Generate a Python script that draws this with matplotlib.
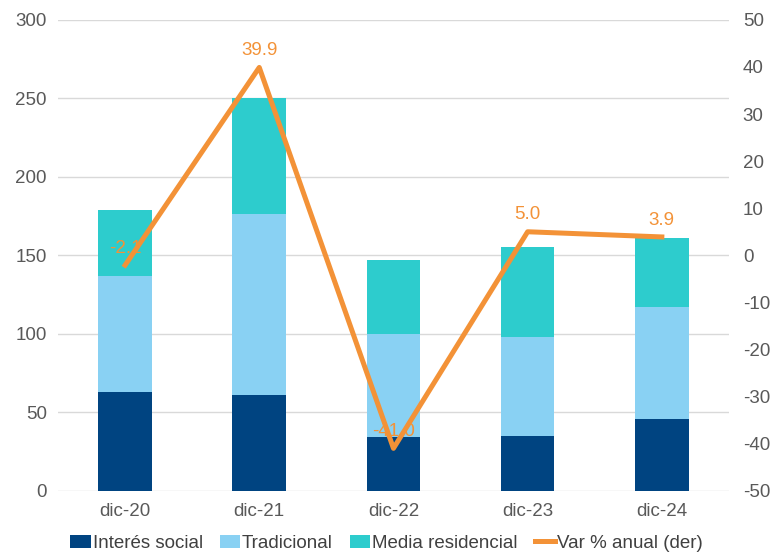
import numpy as np
import matplotlib.pyplot as plt

plt.rcParams['font.family'] = ['Liberation Sans', 'DejaVu Sans']
plt.rcParams['axes.unicode_minus'] = False

periodos = ['dic-20', 'dic-21', 'dic-22', 'dic-23', 'dic-24']
interes_social = [63, 61, 34, 35, 46]
tradicional = [74, 115, 66, 63, 71]
media_residencial = [42, 74, 47, 57, 44]
var_anual = [-2.1, 39.9, -41.0, 5.0, 3.9]

c_dark = '#004481'
c_light = '#89D1F3'
c_teal = '#2DCCCD'
c_orange = '#F39237'
c_text = '#595959'
fs = 13.5

fig = plt.figure(figsize=(7.73, 5.52), dpi=100)
ax = fig.add_axes([0.075, 0.111, 0.868, 0.853])
x = np.arange(len(periodos))
w = 0.4

b1 = ax.bar(x, interes_social, w, color=c_dark, label='Interés social', zorder=2)
base = np.array(interes_social)
b2 = ax.bar(x, tradicional, w, bottom=base, color=c_light, label='Tradicional', zorder=2)
base = base + np.array(tradicional)
b3 = ax.bar(x, media_residencial, w, bottom=base, color=c_teal, label='Media residencial', zorder=2)

ax.set_ylim(0, 300)
ax.set_yticks(range(0, 301, 50))
ax.set_xlim(-0.5, len(periodos) - 0.5)
ax.set_xticks(x)
ax.set_xticklabels(periodos)
ax.yaxis.grid(True, color='#d9d9d9', linewidth=1)
ax.set_axisbelow(True)
for s in ax.spines.values():
    s.set_visible(False)
ax.tick_params(length=0, labelsize=fs, colors=c_text, pad=8)
ax.tick_params(axis='x', pad=9)

ax2 = ax.twinx()
ln, = ax2.plot(x, var_anual, color=c_orange, linewidth=3.6, label='Var % anual (der)', zorder=3)
ax2.set_ylim(-50, 50)
ax2.set_yticks(range(-50, 51, 10))
for s in ax2.spines.values():
    s.set_visible(False)
ax2.tick_params(length=0, labelsize=fs, colors=c_text, pad=10)
for xi, v in zip(x, var_anual):
    ax2.annotate(f'{v:.1f}', (xi, v), xytext=(0, 6), textcoords='offset points',
                 ha='center', va='bottom', color=c_orange, fontsize=fs)

fig.legend(handles=[b1, b2, b3, ln], loc='lower center', ncol=4, frameon=False,
           bbox_to_anchor=(0.5, -0.03), fontsize=fs, labelcolor='#404040',
           handlelength=1.1, handletextpad=0.1, columnspacing=0.9)

fig.savefig('out.png')
